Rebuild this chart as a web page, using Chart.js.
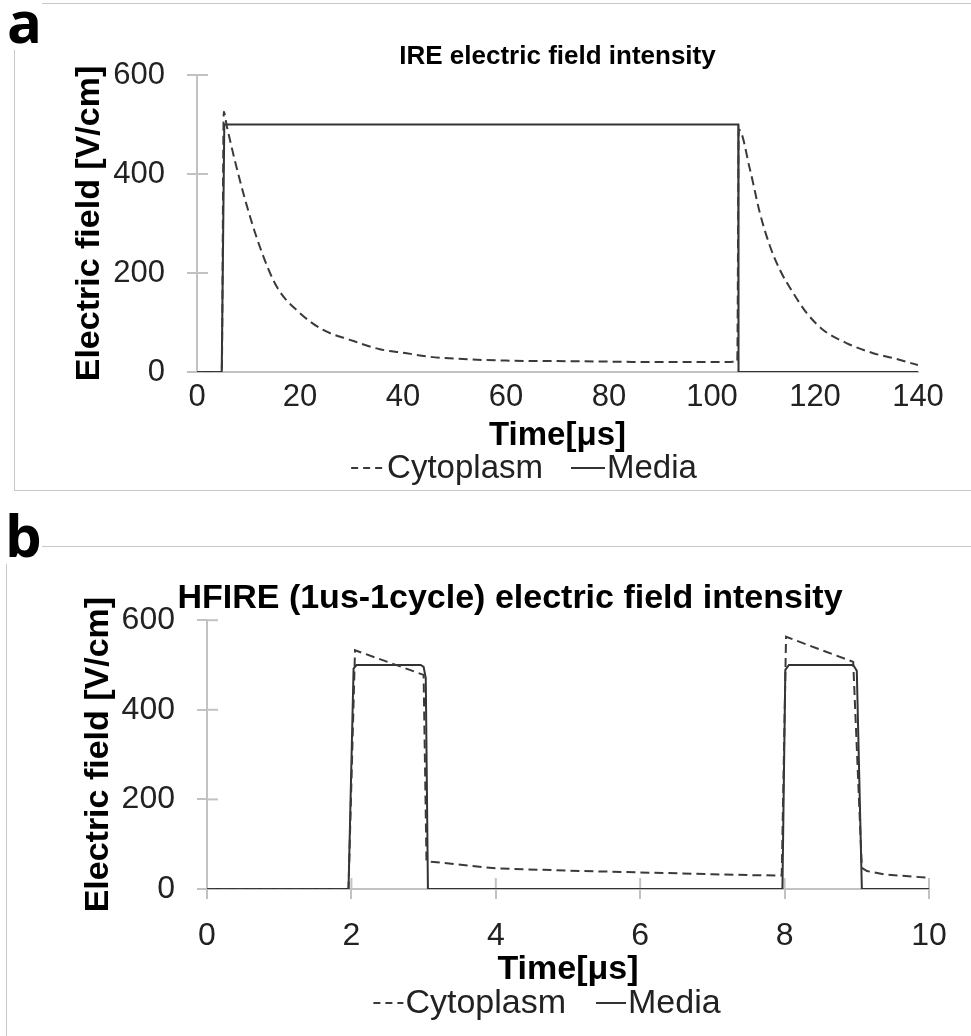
<!DOCTYPE html>
<html>
<head>
<meta charset="utf-8">
<script src="https://cdn.jsdelivr.net/npm/chart.js@4.4.0/dist/chart.umd.min.js"></script>
<style>
  html, body { margin: 0; padding: 0; background: #fff; }
  body { position: relative; width: 971px; height: 1036px; overflow: hidden; font-family: "Liberation Sans", Arial, sans-serif; }
  .frame { position: absolute; border: 1px solid #c8c8c8; }
  #frameA { left: 14px; top: 3px; width: 980px; height: 486px; }
  #frameB { left: 6px; top: 546px; width: 990px; height: 520px; border-bottom: none; }
  .tag { position: absolute; font-family: "Open Sans", "Liberation Sans", sans-serif; font-weight: 700; font-size: 58px; line-height: 1; color: #000; background: #fff; }
  #tagA { left: 7px; top: -8px; }
  #tagB { left: 5px; top: 506px; }
  canvas { position: absolute; }
  #chartA { left: 14px; top: 3px; }
  #chartB { left: 7px; top: 547px; }
</style>
</head>
<body>
<div class="frame" id="frameA"></div>
<div class="frame" id="frameB"></div>
<canvas id="chartA" width="957" height="486"></canvas>
<canvas id="chartB" width="964" height="489"></canvas>
<div class="tag" id="tagA">a</div>
<div class="tag" id="tagB">b</div>

<script>
// ---- series names ----
const seriesNames = ['Cytoplasm', 'Media'];

// ---- IRE pulse (panel a), time in µs, field in V/cm ----
const ireCytoT  = [0, 4.8, 5.2, 5.8, 9.0, 12.2, 15.5, 20, 24.5, 29.7, 35.5, 40, 45, 50, 60, 70, 80, 90, 100, 104.9,
                   105.2, 107.4, 109.3, 111.3, 113.2, 115.8, 118.4, 121.6, 126.2, 131.3, 135.2, 140];
const ireCytoE  = [0, 0, 526, 496, 361, 253, 172, 119, 85, 65, 46, 39, 31, 27, 23, 22, 21, 20, 20, 21,
                   490, 408, 321, 253, 206, 159, 119, 85, 58, 38, 28, 14];
const ireMediaT = [0, 4.8, 5.3, 105.1, 105.15, 140];
const ireMediaE = [0, 0, 500, 500, 0, 0];

// ---- HFIRE 1us-1cycle (panel b) ----
const hfCytoT  = [0, 1.96, 2.05, 3.0, 3.04, 4.0, 5.0, 6.0, 7.0, 7.5, 7.96, 8.02, 8.95, 9.07, 9.14, 9.41, 10];
const hfCytoE  = [0, 0, 533, 478, 62, 46, 41, 37, 33, 31, 30, 563, 507, 47, 40, 32, 25];
const hfMediaT = [0, 1.96, 2.03, 2.07, 2.96, 3.0, 3.03, 3.06, 7.97, 8.01, 8.06, 8.95, 9.0, 9.07, 10];
const hfMediaE = [0, 0, 492, 500, 500, 496, 471, 0, 0, 489, 500, 500, 487, 0, 0];

// ---- axes ----
const fieldTicks = { min: 0, max: 600, step: 200 };
const ireTimeTicks = { min: 0, max: 140, step: 20 };
const hfTimeTicks = { min: 0, max: 10, step: 2 };

const AXIS_GRAY = '#c2c2c2';
const INK = '#222';
const FONT = '"Liberation Sans", Arial, sans-serif';

function toPoints(ts, es) {
  return ts.map((t, i) => ({ x: t, y: es[i] }));
}

// tick marks that cross the axis line (Chart.js only draws the outer half)
const crossTicks = {
  id: 'crossTicks',
  beforeDatasetsDraw(chart, args, opts) {
    const ctx = chart.ctx;
    ctx.save();
    ctx.strokeStyle = AXIS_GRAY;
    ctx.lineWidth = 2;
    (opts.scales || []).forEach(id => {
      const scale = chart.scales[id];
      scale.ticks.forEach(tk => {
        const p = scale.getPixelForValue(tk.value);
        ctx.beginPath();
        if (scale.isHorizontal()) {
          ctx.moveTo(p, scale.top);
          ctx.lineTo(p, scale.top - opts.inner);
        } else {
          ctx.moveTo(scale.right, p);
          ctx.lineTo(scale.right + opts.inner, p);
        }
        ctx.stroke();
      });
    });
    ctx.restore();
  }
};

// legend as "line sample + label", centred under the plot
const lineLegend = {
  id: 'lineLegend',
  afterDraw(chart, args, opts) {
    const ctx = chart.ctx;
    ctx.save();
    ctx.font = opts.fontSize + 'px ' + FONT;
    ctx.textBaseline = 'middle';
    const items = chart.data.datasets.map(ds => ({
      text: ds.label,
      dash: ds.borderDash || [],
      color: ds.borderColor,
      w: opts.sample + opts.gap + ctx.measureText(ds.label).width
    }));
    const total = items.reduce((s, it) => s + it.w, 0) + opts.spacing * (items.length - 1);
    let x = opts.cx - total / 2;
    items.forEach(it => {
      ctx.strokeStyle = it.color;
      ctx.lineWidth = 2;
      ctx.setLineDash(it.dash.length ? opts.sampleDash : []);
      ctx.beginPath();
      ctx.moveTo(x, opts.cy);
      ctx.lineTo(x + opts.sample, opts.cy);
      ctx.stroke();
      ctx.setLineDash([]);
      ctx.fillStyle = INK;
      ctx.fillText(it.text, x + opts.sample + opts.gap, opts.cy + 1);
      x += it.w + opts.spacing;
    });
    ctx.restore();
  }
};

function makePanel(canvasId, p) {
  return new Chart(document.getElementById(canvasId), {
    type: 'line',
    data: {
      datasets: [
        {
          label: seriesNames[0],
          data: toPoints(p.cytoT, p.cytoE),
          borderColor: '#3a3a3a',
          borderWidth: 2,
          borderDash: [9, 5],
          pointRadius: 0,
          fill: false,
          tension: p.smooth ? 0.4 : 0,
          cubicInterpolationMode: p.smooth ? 'monotone' : 'default'
        },
        {
          label: seriesNames[1],
          data: toPoints(p.mediaT, p.mediaE),
          borderColor: '#333',
          borderWidth: 2,
          pointRadius: 0,
          fill: false,
          tension: 0
        }
      ]
    },
    options: {
      responsive: false,
      animation: false,
      events: [],
      layout: { padding: p.padding },
      scales: {
        x: {
          type: 'linear',
          min: p.xTicks.min,
          max: p.xTicks.max,
          afterFit: s => { s.height = p.xHeight; },
          ticks: {
            stepSize: p.xTicks.step,
            color: INK,
            font: { family: FONT, size: p.tickSize },
            padding: p.xTickPad,
            maxRotation: 0
          },
          grid: {
            display: p.xTickMarks,
            drawOnChartArea: false,
            drawTicks: p.xTickMarks,
            tickLength: 10,
            color: AXIS_GRAY,
            lineWidth: 2
          },
          border: { color: AXIS_GRAY, width: 2 },
          title: {
            display: true,
            text: 'Time[μs]',
            color: '#000',
            font: { family: FONT, size: p.xTitleSize, weight: 'bold' },
            padding: { top: 0, bottom: 0 }
          }
        },
        y: {
          min: fieldTicks.min,
          max: fieldTicks.max,
          afterFit: s => { s.width = p.yWidth; },
          ticks: {
            stepSize: fieldTicks.step,
            color: INK,
            font: { family: FONT, size: p.tickSize },
            padding: 22
          },
          grid: {
            drawOnChartArea: false,
            drawTicks: true,
            tickLength: 10,
            color: AXIS_GRAY,
            lineWidth: 2
          },
          border: { color: AXIS_GRAY, width: 2 },
          title: {
            display: true,
            text: 'Electric field [V/cm]',
            color: '#000',
            font: { family: FONT, size: 34, weight: 'bold' },
            padding: { top: p.yTitlePad, bottom: 0 }
          }
        }
      },
      plugins: {
        legend: { display: false },
        tooltip: { enabled: false },
        title: {
          display: true,
          text: p.title,
          color: '#000',
          fullSize: p.titleFull,
          font: { family: FONT, size: p.titleSize, weight: 'bold', lineHeight: 1.2 },
          padding: { top: 0, bottom: p.titlePadBottom }
        },
        crossTicks: { scales: p.crossScales, inner: 11 },
        lineLegend: p.legend
      }
    },
    plugins: [crossTicks, lineLegend]
  });
}

makePanel('chartA', {
  title: 'IRE electric field intensity',
  cytoT: ireCytoT, cytoE: ireCytoE, mediaT: ireMediaT, mediaE: ireMediaE,
  smooth: true,
  xTicks: ireTimeTicks,
  padding: { top: 38, left: 53, right: 53, bottom: 33 },
  titleSize: 26, titleFull: false, titlePadBottom: 2.8,
  tickSize: 31, xTickPad: 7, xTickMarks: false, xHeight: 84, xTitleSize: 33,
  yWidth: 130, yTitlePad: 2.6,
  crossScales: ['y'],
  legend: { cx: 510, cy: 465, fontSize: 33, sample: 34, gap: 2, spacing: 28, sampleDash: [7, 5] }
});

makePanel('chartB', {
  title: 'HFIRE (1us-1cycle) electric field intensity',
  cytoT: hfCytoT, cytoE: hfCytoE, mediaT: hfMediaT, mediaE: hfMediaE,
  smooth: false,
  xTicks: hfTimeTicks,
  padding: { top: 31, left: 84, right: 42, bottom: 46 },
  titleSize: 34, titleFull: true, titlePadBottom: 1.4,
  tickSize: 32, xTickPad: 18, xTickMarks: true, xHeight: 101, xTitleSize: 34,
  yWidth: 116, yTitlePad: -13,
  crossScales: ['x', 'y'],
  legend: { cx: 540, cy: 456, fontSize: 34, sample: 30, gap: 2, spacing: 30, sampleDash: [7, 5] }
});
</script>
</body>
</html>
